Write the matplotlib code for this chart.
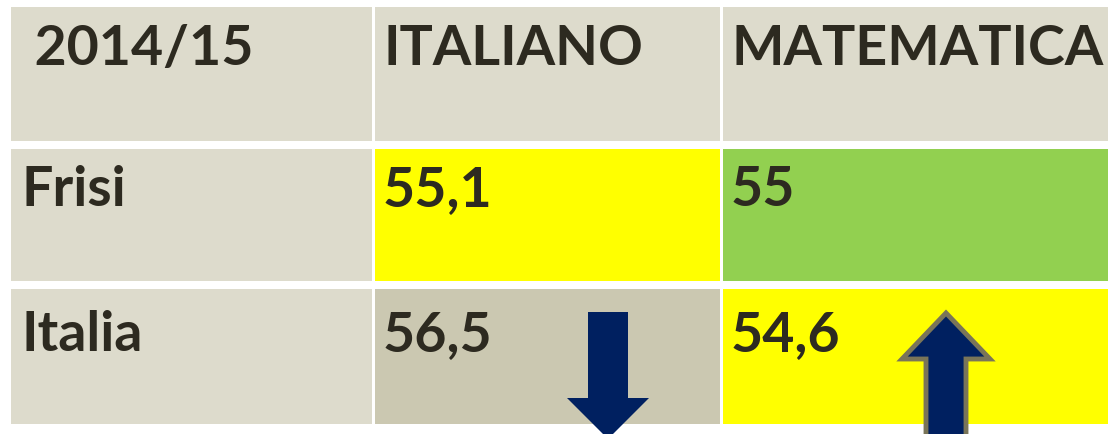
import matplotlib
matplotlib.use("Agg")
import matplotlib.pyplot as plt
from matplotlib.patches import Rectangle, FancyArrow

# table content
header = [" 2014/15", "ITALIANO", "MATEMATICA"]
row_labels = ["Frisi", "Italia"]
italiano = ["55,1", "56,5"]
matematica = ["55", "54,6"]
# trend shown with arrows in the Italia row: -1 down, +1 up
trend = [-1, 1]

# layout in pixels
col_edges = [(11, 372), (375, 720), (723, 1112)]
row_edges = [(8, 142), (150, 282), (290, 425)]
text_x = [21, 383, 731]
text_dy = [16, 15, 20]

beige = "#DDDBCC"
colors = [
    [beige, beige, beige],
    [beige, "#FFFF00", "#92D050"],
    [beige, "#CBC8B1", "#FFFF00"],
]
txt_color = "#2D2A20"

fig = plt.figure(figsize=(11.08, 4.35), dpi=100)
ax = fig.add_axes([0, 0, 1, 1])
ax.set_xlim(0, 1108)
ax.set_ylim(435, 0)
ax.axis("off")

cells = [header] + [[row_labels[i], italiano[i], matematica[i]] for i in range(len(row_labels))]

for r, (y0, y1) in enumerate(row_edges):
    for c, (x0, x1) in enumerate(col_edges):
        ax.add_patch(Rectangle((x0, y0), x1 - x0, y1 - y0, color=colors[r][c], lw=0))
        ax.text(text_x[c], y0 + text_dy[r], cells[r][c],
                ha="left", va="top", fontsize=40, fontweight="bold",
                family="Lato", color=txt_color)

# arrows
ax.add_patch(FancyArrow(608, 313, 0, 127, width=40, head_width=82, head_length=41,
                        length_includes_head=True, color="#002060", lw=0))
ax.add_patch(FancyArrow(946, 445, 0, -131, width=40, head_width=88, head_length=46,
                        length_includes_head=True, facecolor="#002060",
                        edgecolor="#7A7558", lw=3.5))

fig.savefig("out.png", dpi=100)
